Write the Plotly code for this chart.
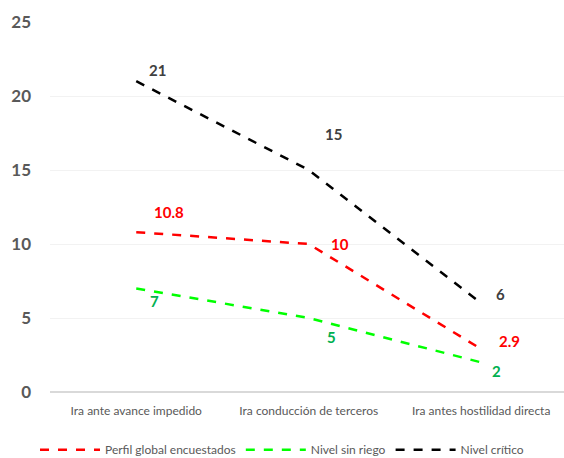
import plotly.graph_objects as go

categories = ["Ira ante avance impedido", "Ira conducción de terceros", "Ira antes hostilidad directa"]
perfil = [10.8, 10, 2.9]
sin_riesgo = [7, 5, 2]
critico = [21, 15, 6]
perfil_labels = ["10.8", "10", "2.9"]
sin_riesgo_labels = ["7", "5", "2"]
critico_labels = ["21", "15", "6"]

FONT = "Lato, 'Open Sans', sans-serif"
x = list(range(len(categories)))

fig = go.Figure()
series = [
    ("Perfil global encuestados", perfil, perfil_labels, "#FF0000", "#FF0000",
     [(33, 20), (31, 0), (28, 8)]),
    ("Nivel sin riego", sin_riesgo, sin_riesgo_labels, "#00FF00", "#00B050",
     [(18, -13), (23, -19), (15, -9)]),
    ("Nivel crítico", critico, critico_labels, "#000000", "#404040",
     [(21, 11), (25, 36), (19, 9)]),
]
annotations = []
for name, vals, labs, lc, tc, offs in series:
    fig.add_trace(go.Scatter(x=x, y=vals, mode="lines", name=name,
                             line=dict(color=lc, width=2.5, dash="dash")))
    for xi, v, t, (dx, dy) in zip(x, vals, labs, offs):
        annotations.append(dict(x=xi, y=v, text="<b>%s</b>" % t, showarrow=False,
                                xshift=dx, yshift=dy,
                                font=dict(family=FONT, size=15, color=tc)))

fig.update_layout(
    width=564, height=458,
    margin=dict(l=50, r=0, t=22, b=66),
    paper_bgcolor="white", plot_bgcolor="white",
    font=dict(family=FONT, color="#595959"),
    annotations=annotations,
    showlegend=True,
    legend=dict(orientation="h", x=0.5, xanchor="center", xref="container",
                yref="container", y=0.018, yanchor="middle",
                font=dict(family=FONT, size=12, color="#595959"),
                itemwidth=60, tracegroupgap=0),
    xaxis=dict(range=[-0.5, 2.48], tickmode="array", tickvals=x, ticktext=categories,
               showgrid=False, zeroline=False, showline=False, ticklabelstandoff=10,
               tickfont=dict(family=FONT, size=12, color="#595959")),
    yaxis=dict(range=[0, 25], tickvals=[0, 5, 10, 15, 20, 25], showgrid=True,
               gridcolor="#F2F2F2", gridwidth=1, zeroline=True, zerolinecolor="#D9D9D9",
               zerolinewidth=2, ticks="", ticklabelstandoff=18,
               tickfont=dict(family=FONT, size=17, color="#595959", weight="bold")),
)

fig.write_html("out.html")
